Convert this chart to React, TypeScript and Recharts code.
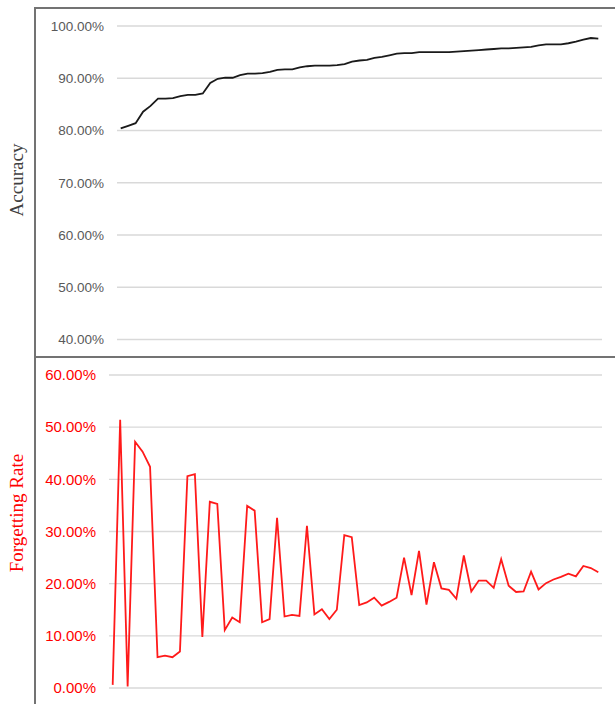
import { CartesianGrid, Line, LineChart, XAxis, YAxis } from "recharts";

// Accuracy per step (%)
const accuracy = [
  80.4, 80.9, 81.4, 83.6, 84.7, 86.1, 86.1, 86.2, 86.6, 86.8, 86.8, 87.1, 89.1,
  89.9, 90.1, 90.1, 90.6, 90.9, 90.9, 91.0, 91.2, 91.6, 91.7, 91.7, 92.1, 92.3,
  92.4, 92.4, 92.4, 92.5, 92.7, 93.2, 93.4, 93.5, 93.9, 94.1, 94.4, 94.7, 94.8,
  94.8, 95.0, 95.0, 95.0, 95.0, 95.0, 95.1, 95.2, 95.3, 95.4, 95.5, 95.6, 95.7,
  95.7, 95.8, 95.9, 96.0, 96.3, 96.5, 96.5, 96.5, 96.7, 97.0, 97.4, 97.7, 97.6,
];

// Forgetting rate per step (%), lower panel
const forgetting = [
  0.6, 51.4, 0.3, 47.2, 45.3, 42.4, 5.9, 6.2, 5.9, 7.0, 40.6, 41.0, 9.8, 35.7,
  35.3, 11.1, 13.5, 12.6, 34.9, 34.0, 12.6, 13.2, 32.6, 13.7, 14.0, 13.8, 31.1,
  14.1, 15.1, 13.2, 15.0, 29.3, 28.9, 15.9, 16.4, 17.3, 15.8, 16.5, 17.3, 25.0,
  17.8, 26.3, 16.0, 24.1, 19.1, 18.8, 17.1, 25.4, 18.5, 20.6, 20.6, 19.2, 24.7,
  19.6, 18.4, 18.5, 22.3, 18.9, 20.1, 20.8, 21.3, 21.9, 21.4, 23.4, 23.0, 22.2,
];

const accuracyTicks = [40, 50, 60, 70, 80, 90, 100];
const forgettingTicks = [0, 10, 20, 30, 40, 50, 60];

const accData = accuracy.map((v, i) => ({ step: String(i + 1), acc: v }));
const fgtData = forgetting.map((v, i) => ({ step: String(i + 1), fgt: v }));

const pct = (v: number) => `${v.toFixed(2)}%`;

const BORDER = "#737373";
const GRID = "#d9d9d9";

const titleStyle = (color: string, cy: number): React.CSSProperties => ({
  position: "absolute",
  left: 17,
  top: cy,
  transform: "translate(-50%, -50%) rotate(-90deg)",
  fontFamily: "'Liberation Serif', 'Times New Roman', serif",
  fontSize: 19,
  color,
  whiteSpace: "nowrap",
});

export default function App() {
  return (
    <div
      style={{
        position: "fixed",
        left: 0,
        top: 0,
        width: 615,
        height: 704,
        overflow: "hidden",
        background: "#fff",
      }}
    >
      {/* panel frames, cropped on the right and bottom like the source */}
      <div
        style={{
          position: "absolute",
          left: 34,
          top: 7,
          width: 700,
          height: 351,
          boxSizing: "border-box",
          border: `2px solid ${BORDER}`,
        }}
      />
      <div
        style={{
          position: "absolute",
          left: 34,
          top: 356,
          width: 700,
          height: 420,
          boxSizing: "border-box",
          border: `2px solid ${BORDER}`,
        }}
      />

      <div style={{ position: "absolute", left: 0, top: 0 }}>
        <LineChart
          width={615}
          height={357}
          data={accData}
          margin={{ top: 26, right: 13, bottom: 17.5, left: 0 }}
        >
          <CartesianGrid vertical={false} stroke={GRID} strokeWidth={1.3} />
          <XAxis dataKey="step" hide padding={{ left: 3.7, right: 3.7 }} />
          <YAxis
            width={117}
            domain={[40, 100]}
            ticks={accuracyTicks}
            tickFormatter={pct}
            axisLine={false}
            tickLine={false}
            tickSize={0}
            tickMargin={13}
            tick={{
              fill: "#595959",
              fontSize: 13.5,
              fontFamily: "'Liberation Sans', Arial, sans-serif",
            }}
          />
          <Line
            type="linear"
            dataKey="acc"
            stroke="#1a1a1a"
            strokeWidth={1.8}
            dot={false}
            isAnimationActive={false}
          />
        </LineChart>
      </div>

      <div style={{ position: "absolute", left: 0, top: 357 }}>
        <LineChart
          width={615}
          height={347}
          data={fgtData}
          margin={{ top: 18, right: 13, bottom: 16, left: 0 }}
        >
          <CartesianGrid vertical={false} stroke={GRID} strokeWidth={1.3} />
          <XAxis dataKey="step" hide padding={{ left: 3.7, right: 3.7 }} />
          <YAxis
            width={109}
            domain={[0, 60]}
            ticks={forgettingTicks}
            tickFormatter={pct}
            axisLine={false}
            tickLine={false}
            tickSize={0}
            tickMargin={13}
            tick={{
              fill: "#ff0000",
              fontSize: 15,
              fontFamily: "'Liberation Sans', Arial, sans-serif",
            }}
          />
          <Line
            type="linear"
            dataKey="fgt"
            stroke="#ff1a1a"
            strokeWidth={1.8}
            dot={false}
            isAnimationActive={false}
          />
        </LineChart>
      </div>

      <div style={titleStyle("#404040", 180)}>Accuracy</div>
      <div style={titleStyle("#ff0000", 513)}>Forgetting Rate</div>
    </div>
  );
}
